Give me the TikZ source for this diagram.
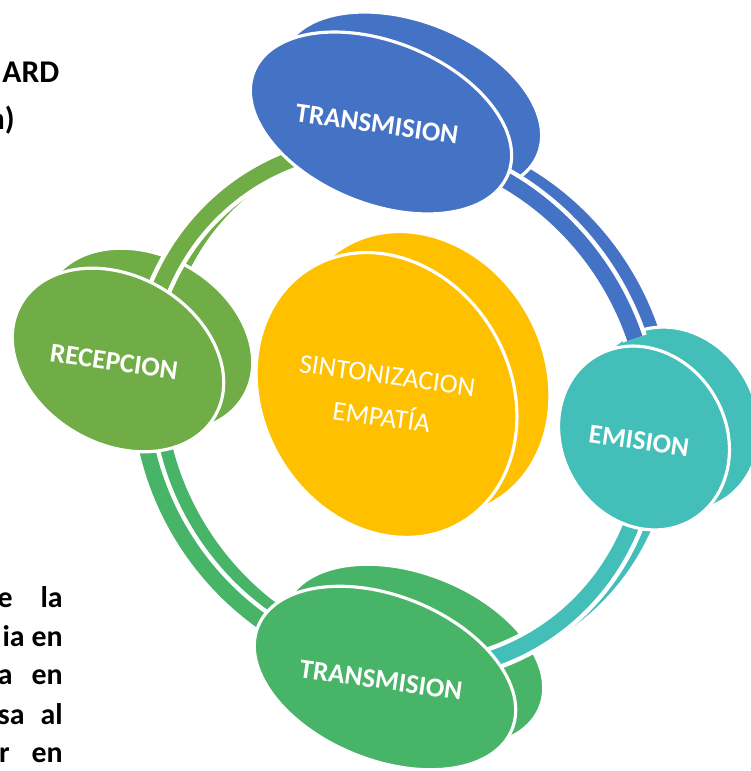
\documentclass[tikz,border=0pt]{standalone}
\usepackage{fontspec}
\setmainfont{Carlito}
\usetikzlibrary{shapes.geometric}

\definecolor{azul}{HTML}{4472C4}
\definecolor{amarillo}{HTML}{FFC000}
\definecolor{oliva}{HTML}{70AD47}
\definecolor{turquesa}{HTML}{43BEB8}
\definecolor{verde}{HTML}{47B468}

\begin{document}
\begin{tikzpicture}[
    disco/.style={ellipse, inner sep=0pt, draw=white, line width=1.8pt},
    banda/.style={line width=0.32cm},
    borde/.style={white, line width=0.50cm},
    etiqueta/.style={white, font=\fontsize{15.5}{24}\selectfont\bfseries, rotate=-8},
    texto/.style={font=\fontsize{17}{20}\selectfont\bfseries, inner sep=0pt}
]
    % Marco de la figura
    \useasboundingbox (0,0) rectangle (15.02,15.42);

    % Anillo: banda de atrás
    \begin{scope}[shift={(8.22,7.40)}, rotate=-56.5]
        \coordinate (azulIni) at (125:5.40 and 4.96);
        \coordinate (turqIni) at (35:5.40 and 4.96);
        \coordinate (verdeIni) at (296:5.40 and 4.96);
        \coordinate (olivaIni) at (215:5.40 and 4.96);
        \draw[banda, azul] (azulIni) arc[start angle=125, end angle=74, x radius=5.40, y radius=4.96];
        \draw[banda, turquesa] (turqIni) arc[start angle=35, end angle=-16, x radius=5.40, y radius=4.96];
        \draw[banda, verde] (verdeIni) arc[start angle=296, end angle=245, x radius=5.40, y radius=4.96];
        \draw[banda, oliva] (olivaIni) arc[start angle=215, end angle=165, x radius=5.40, y radius=4.96];
    \end{scope}

    % Discos: cara de atrás
    \node[disco, fill=azul, minimum width=5.48cm, minimum height=3.24cm, rotate=-22] (azulB) at (8.22,13.36) {};
    \node[disco, fill=amarillo, minimum width=5.92cm, minimum height=4.96cm, rotate=-60] (amarB) at (8.39,7.94) {};
    \node[disco, fill=oliva, minimum width=4.48cm, minimum height=3.36cm, rotate=-30] (olivaB) at (2.94,8.62) {};
    \node[disco, fill=turquesa, minimum width=3.80cm, minimum height=3.28cm, rotate=-60] (turqB) at (13.48,7.04) {};
    \node[disco, fill=verde, minimum width=5.48cm, minimum height=3.28cm, rotate=-22] (verdeB) at (8.26,2.30) {};

    % Anillo: banda de adelante
    \begin{scope}[shift={(7.90,7.26)}, rotate=-56.5]
        \coordinate (azulA) at (125:5.40 and 4.96);
        \coordinate (turqA) at (35:5.40 and 4.96);
        \coordinate (verdeA) at (296:5.40 and 4.96);
        \coordinate (olivaA) at (215:5.40 and 4.96);
        \draw[borde] (azulA) arc[start angle=125, end angle=74, x radius=5.40, y radius=4.96];
        \draw[banda, azul] (azulA) arc[start angle=125, end angle=74, x radius=5.40, y radius=4.96];
        \draw[borde] (turqA) arc[start angle=35, end angle=-16, x radius=5.40, y radius=4.96];
        \draw[banda, turquesa] (turqA) arc[start angle=35, end angle=-16, x radius=5.40, y radius=4.96];
        \draw[borde] (verdeA) arc[start angle=296, end angle=245, x radius=5.40, y radius=4.96];
        \draw[banda, verde] (verdeA) arc[start angle=296, end angle=245, x radius=5.40, y radius=4.96];
        \draw[borde] (olivaA) arc[start angle=215, end angle=165, x radius=5.40, y radius=4.96];
        \draw[banda, oliva] (olivaA) arc[start angle=215, end angle=165, x radius=5.40, y radius=4.96];
    \end{scope}

    % Discos: cara de adelante
    \node[disco, fill=azul, minimum width=5.48cm, minimum height=3.24cm, rotate=-22] (azul) at (7.62,12.96) {};
    \node[disco, fill=amarillo, minimum width=5.92cm, minimum height=4.96cm, rotate=-60] (amar) at (7.73,7.52) {};
    \node[disco, fill=oliva, minimum width=4.48cm, minimum height=3.36cm, rotate=-30] (oliva) at (2.36,8.22) {};
    \node[disco, fill=turquesa, minimum width=3.80cm, minimum height=3.28cm, rotate=-60] (turq) at (12.88,6.66) {};
    \node[disco, fill=verde, minimum width=5.48cm, minimum height=3.28cm, rotate=-22] (verde) at (7.70,1.86) {};

    % Etiquetas de los discos
    \node[etiqueta] (tTrans) at (7.54,12.94) {TRANSMISION};
    \node[etiqueta, font=\fontsize{15.5}{24}\selectfont, align=center] (tSinto) at (7.69,7.49) {SINTONIZACION\\EMPATÍA};
    \node[etiqueta] (tRecep) at (2.28,8.18) {RECEPCION};
    \node[etiqueta] (tEmis) at (12.78,6.60) {EMISION};
    \node[etiqueta] (tTrans2) at (7.62,1.82) {TRANSMISION};

    % Texto de la izquierda (cortado)
    \node[texto, font=\fontsize{18}{22}\selectfont\bfseries, anchor=base west] (tArd) at (0.04,13.76) {ARD};
    \node[texto, font=\fontsize{18}{22}\selectfont\bfseries, anchor=base east] (tPar) at (0.30,12.82) {n)};

    \node[texto, anchor=base east] (l1a) at (0.26,3.26) {e};
    \node[texto, anchor=base east] (l1b) at (1.26,3.26) {la};
    \node[texto, anchor=base east] (l2a) at (0.50,2.48) {ia};
    \node[texto, anchor=base east] (l2b) at (1.26,2.48) {en};
    \node[texto, anchor=base east] (l3a) at (0.26,1.72) {a};
    \node[texto, anchor=base east] (l3b) at (1.26,1.72) {en};
    \node[texto, anchor=base east] (l4a) at (0.50,0.92) {sa};
    \node[texto, anchor=base east] (l4b) at (1.26,0.92) {al};
    \node[texto, anchor=base east] (l5a) at (0.20,0.16) {r};
    \node[texto, anchor=base east] (l5b) at (1.26,0.16) {en};
\end{tikzpicture}
\end{document}
